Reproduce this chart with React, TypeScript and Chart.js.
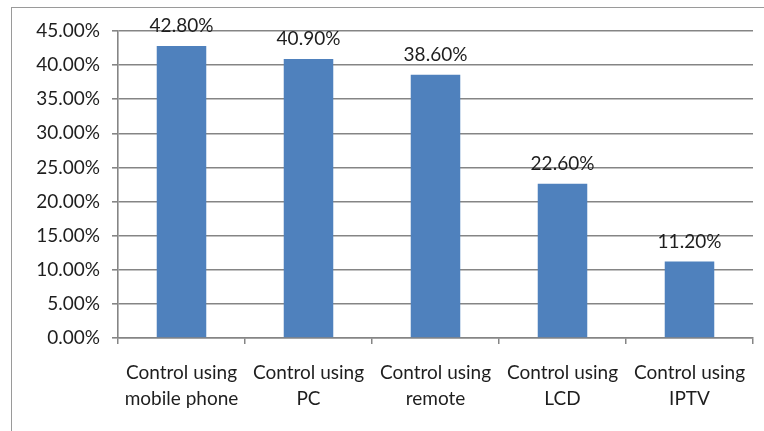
import React, { useEffect, useRef } from "react";
import { Chart, registerables } from "chart.js";

Chart.register(...registerables);

const categories: string[][] = [
  ["Control using", "mobile phone"],
  ["Control using", "PC"],
  ["Control using", "remote"],
  ["Control using", "LCD"],
  ["Control using", "IPTV"],
];
const values: number[] = [42.8, 40.9, 38.6, 22.6, 11.2];
const yMin = 0;
const yMax = 45;
const yStep = 5;

const FONT = "Lato, 'Open Sans', sans-serif";
const TEXT = "#1e1e1e";
const GRID = "#858585";

const labelPlugin = {
  id: "barLabels",
  beforeDraw(chart: any) {
    const ctx = chart.ctx;
    ctx.save();
    ctx.strokeStyle = "#9a9a9a";
    ctx.lineWidth = 1;
    ctx.strokeRect(11.5, 7.5, 900, 600);
    ctx.restore();
  },
  afterDatasetsDraw(chart: any) {
    const ctx = chart.ctx;
    const meta = chart.getDatasetMeta(0);
    ctx.save();
    ctx.font = `19px ${FONT}`;
    ctx.fillStyle = TEXT;
    ctx.textAlign = "center";
    ctx.textBaseline = "alphabetic";
    meta.data.forEach((bar: any, i: number) => {
      const v = chart.data.datasets[0].data[i] as number;
      ctx.fillText(v.toFixed(2) + "%", bar.x, bar.y - 14);
    });
    ctx.restore();
  },
};

export default function App() {
  const ref = useRef<HTMLCanvasElement>(null);
  useEffect(() => {
    if (!ref.current) return;
    const chart = new Chart(ref.current, {
      type: "bar",
      data: {
        labels: categories,
        datasets: [
          {
            data: values,
            backgroundColor: "#4F81BD",
            borderWidth: 0,
            categoryPercentage: 1,
            barPercentage: 0.39,
          },
        ],
      },
      options: {
        responsive: false,
        animation: false,
        layout: { padding: { left: 0, top: 31, right: 11, bottom: 0 } },
        plugins: {
          legend: { display: false },
          tooltip: { enabled: false },
        },
        scales: {
          x: {
            grid: {
              display: true,
              drawOnChartArea: false,
              drawTicks: true,
              tickLength: 6,
              color: GRID,
              lineWidth: 1.5,
              offset: true,
            },
            border: { display: true, color: GRID, width: 1.5 },
            ticks: {
              color: TEXT,
              font: { family: FONT, size: 19, lineHeight: 1.37 },
              padding: 16,
              maxRotation: 0,
              autoSkip: false,
            },
            afterFit(scale: any) {
              scale.height = 93;
            },
          },
          y: {
            min: yMin,
            max: yMax,
            ticks: {
              stepSize: yStep,
              color: TEXT,
              font: { family: FONT, size: 19 },
              padding: 12,
              callback: (v: any) => Number(v).toFixed(2) + "%",
            },
            grid: {
              color: GRID,
              lineWidth: 1.6,
              tickLength: 6,
              drawTicks: true,
            },
            border: { display: true, color: GRID, width: 1.6 },
            afterFit(scale: any) {
              scale.width = 118;
            },
          },
        },
      },
      plugins: [labelPlugin],
    });
    return () => chart.destroy();
  }, []);
  return (
    <div style={{ position: "fixed", left: 0, top: 0, width: 764, height: 431, background: "#fff" }}>
      <canvas ref={ref} width={764} height={431} />
    </div>
  );
}
